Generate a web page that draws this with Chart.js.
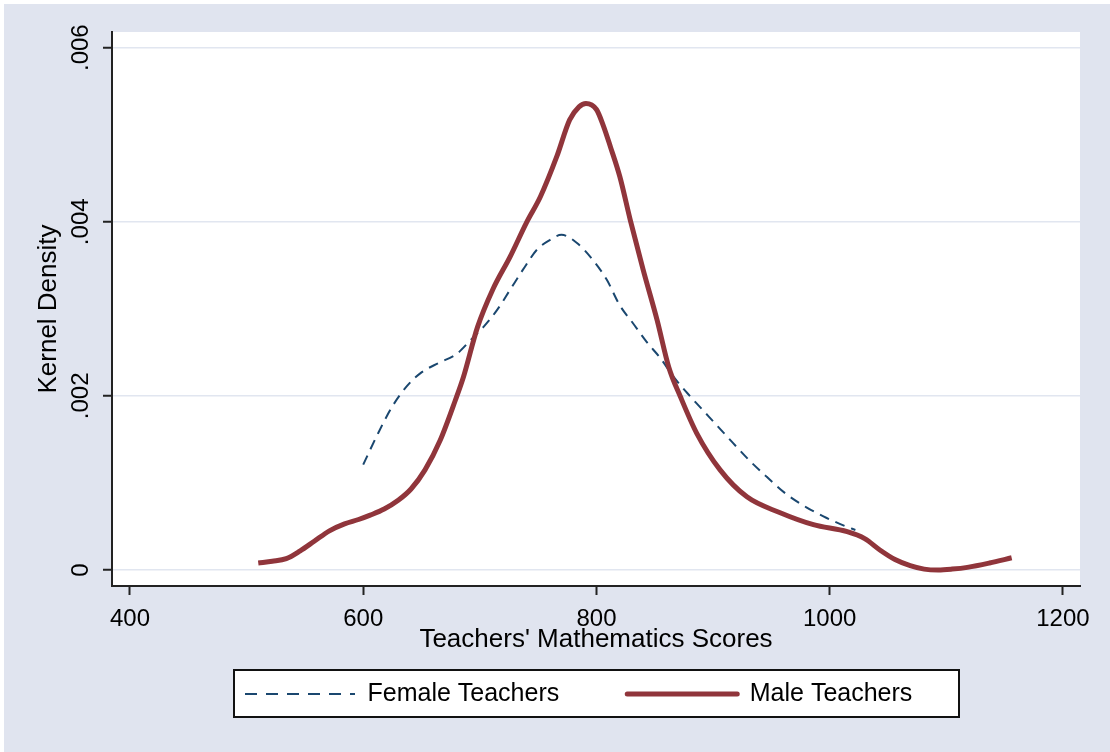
<!DOCTYPE html>
<html>
<head>
<meta charset="utf-8">
<script src="https://cdn.jsdelivr.net/npm/chart.js"></script>
<style>
  html, body { margin: 0; padding: 0; background: #fff; }
  canvas { display: block; }
</style>
</head>
<body>
<canvas id="myCanvas" width="1110" height="752"></canvas>
<script>
var femaleScore = [600, 612, 625, 638, 650, 665, 680, 692, 703, 715, 726, 737, 749, 760, 770, 783, 797, 809, 820, 831, 843, 855, 866, 878, 891, 904, 917, 931, 946, 962, 980, 997, 1014, 1022];
var femaleDensity = [0.00121, 0.00155, 0.00188, 0.00212, 0.00227, 0.00238, 0.00248, 0.00264, 0.00279, 0.00299, 0.00322, 0.00345, 0.00368, 0.00379, 0.00385, 0.00376, 0.00356, 0.00333, 0.00304, 0.00284, 0.00262, 0.00243, 0.00222, 0.00203, 0.00184, 0.00165, 0.00146, 0.00126, 0.00107, 0.00088, 0.00072, 0.0006, 0.0005, 0.00046];

var maleScore = [510, 522, 534, 546, 558, 571, 584, 596, 606, 618, 630, 641, 653, 666, 679, 686, 698, 711, 726, 740, 752, 766, 777, 785, 791, 800, 806, 812, 820, 829, 840, 852, 862, 872, 886, 906, 929, 957, 986, 1015, 1030, 1043, 1056, 1069, 1081, 1093, 1105, 1118, 1137, 1156];
var maleDensity = [0.00008, 0.0001, 0.00013, 0.00022, 0.00033, 0.00045, 0.00053, 0.00058, 0.00063, 0.0007, 0.0008, 0.00093, 0.00115, 0.00149, 0.00195, 0.00222, 0.00279, 0.00322, 0.0036, 0.00399, 0.00429, 0.00475, 0.00517, 0.00532, 0.00536, 0.00529, 0.0051, 0.00486, 0.00452, 0.00402, 0.00345, 0.00287, 0.00233, 0.00199, 0.00157, 0.00115, 0.00084, 0.00066, 0.00052, 0.00044, 0.00036, 0.00023, 0.00012, 0.00005, 0.00001, 0.0, 0.00001, 0.00003, 0.00008, 0.00014];

var xTicks = [400, 600, 800, 1000, 1200];
var yTicks = [0, 0.002, 0.004, 0.006];

var FONT = "'Liberation Sans', Arial, sans-serif";
Chart.defaults.font.family = FONT;
Chart.defaults.color = '#000';

// legend frame (stata style box under the axis title)
var frame = { left: 234, top: 670, right: 959, bottom: 717 };

function pairs(xs, ys) {
	return xs.map(function(x, i){ return { x: x, y: ys[i] }; });
}

var stataBg = {
	id: 'stataBg',
	afterLayout: function(chart) {
		// put the legend row inside the frame
		var lg = chart.legend;
		var pad = lg.options.labels.padding;
		var fs = lg.options.labels.font.size;
		lg.left = frame.left + 11 - pad;
		lg.right = lg.left + lg.lineWidths[0] + pad;
		lg.top = (frame.top + frame.bottom) / 2 + 0.5 - pad - fs / 2;
		lg.bottom = frame.bottom;
		lg.height = lg.bottom - lg.top;
		lg.width = lg.right - lg.left;
	},
	beforeDraw: function(chart) {
		var ctx = chart.ctx;
		var a = chart.chartArea;
		ctx.save();
		ctx.fillStyle = '#e0e4ef';
		ctx.fillRect(4, 4, chart.width - 4, chart.height - 4);
		ctx.fillStyle = '#ffffff';
		ctx.fillRect(a.left, a.top, a.right - a.left, a.bottom - a.top);
		ctx.fillRect(frame.left, frame.top, frame.right - frame.left, frame.bottom - frame.top);
		ctx.strokeStyle = '#111';
		ctx.lineWidth = 2;
		ctx.strokeRect(frame.left, frame.top, frame.right - frame.left, frame.bottom - frame.top);
		ctx.restore();
	}
};

var chartdata = {
	datasets: [
		{
			label: 'Female Teachers',
			data: pairs(femaleScore, femaleDensity),
			borderColor: 'rgb(26,71,111)',
			borderWidth: 2,
			borderDash: [10, 7],
			pointRadius: 0,
			fill: false,
			cubicInterpolationMode: 'monotone',
			order: 1
		},
		{
			label: 'Male Teachers',
			data: pairs(maleScore, maleDensity),
			borderColor: 'rgb(144,53,59)',
			borderWidth: 5,
			pointRadius: 0,
			fill: false,
			cubicInterpolationMode: 'monotone',
			order: 0
		}
	]
};

var ctx = document.getElementById('myCanvas');

var densityGraph = new Chart(ctx, {
	type: 'line',
	data: chartdata,
	plugins: [stataBg],
	options: {
		responsive: false,
		animation: false,
		events: [],
		layout: { padding: { left: 0, top: 32, right: 30, bottom: 37 } },
		plugins: {
			tooltip: { enabled: false },
			legend: {
				position: 'bottom',
				maxHeight: 60,
				labels: {
					usePointStyle: true,
					pointStyle: 'line',
					pointStyleWidth: 110,
					padding: 68,
					color: '#000',
					font: { size: 25, family: FONT },
					sort: function(a, b){ return a.datasetIndex - b.datasetIndex; },
					generateLabels: function(chart) {
						var items = Chart.defaults.plugins.legend.labels.generateLabels(chart);
						items.forEach(function(it){
							var ds = chart.data.datasets[it.datasetIndex];
							it.strokeStyle = ds.borderColor;
							it.lineWidth = ds.borderWidth;
							it.lineDash = ds.borderDash ? [12, 9] : [];
							it.lineCap = ds.borderDash ? 'butt' : 'round';
						});
						return items;
					}
				}
			}
		},
		scales: {
			x: {
				type: 'linear',
				min: 384.6,
				max: 1214.6,
				afterBuildTicks: function(s){ s.ticks = xTicks.map(function(v){ return { value: v }; }); },
				afterFit: function(s){ s.height = 69; },
				grid: { drawOnChartArea: false, drawTicks: true, tickLength: 9, tickWidth: 2, tickColor: '#222' },
				border: { color: '#222', width: 2 },
				ticks: {
					font: { size: 24 },
					color: '#000',
					padding: 10,
					maxRotation: 0,
					callback: function(v){ return String(v); }
				},
				title: { display: true, text: "Teachers' Mathematics Scores", font: { size: 26 }, color: '#000', padding: 0 }
			},
			y: {
				type: 'linear',
				min: -0.000184,
				max: 0.00618,
				afterBuildTicks: function(s){ s.ticks = yTicks.map(function(v){ return { value: v }; }); },
				afterFit: function(s){ s.width = 112; },
				grid: { color: '#e1e6f0', lineWidth: 1.5, tickLength: 9, tickWidth: 2, tickColor: '#222' },
				border: { color: '#222', width: 2 },
				ticks: {
					minRotation: 90,
					maxRotation: 90,
					crossAlign: 'center',
					padding: -2,
					font: { size: 24 },
					color: '#000',
					callback: function(v){ return v === 0 ? '0' : String(v).replace(/^0\./, '.'); }
				},
				title: { display: true, text: 'Kernel Density', font: { size: 26 }, color: '#000', padding: { top: 33, bottom: 0 } }
			}
		}
	}
});
</script>
</body>
</html>
